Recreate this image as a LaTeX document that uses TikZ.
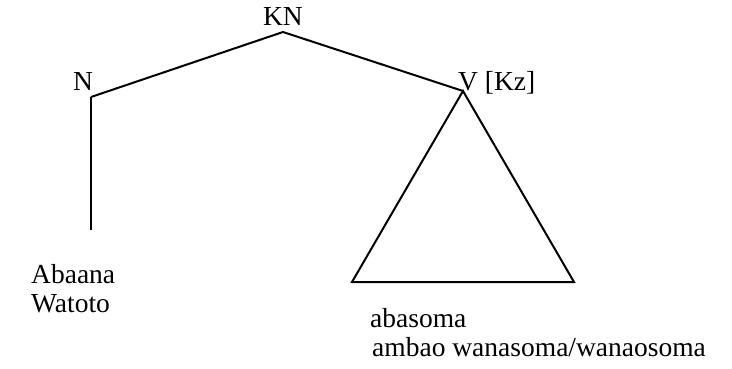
\documentclass[tikz,border=0pt]{standalone}
\usepackage{fontspec}
\setmainfont{Liberation Serif}
\begin{document}
\begin{tikzpicture}[x=1pt,y=-1pt,
  lbl/.style={inner sep=0pt,anchor=base west,font=\fontsize{27.5}{31}\selectfont},
  branch/.style={line width=2pt}]
\useasboundingbox (0,0) rectangle (732,368);
% labels
\node[lbl,anchor=base] (kn) at (283,25) {KN};
\node[lbl] (n) at (73,90) {N};
\node[lbl] (v) at (458,90) {V [Kz]};
\node[lbl] (abaana) at (31,283) {Abaana};
\node[lbl] (watoto) at (31,312) {Watoto};
\node[lbl] (abasoma) at (370,327) {abasoma};
\node[lbl] (ambao) at (372,356) {ambao wanasoma/wanaosoma};
% branch points
\coordinate (knb) at (283,32);
\coordinate (nb) at (91,97);
\coordinate (ve) at (463,91);
\coordinate (nend) at (91,230);
\coordinate (tl) at (352,282);
\coordinate (tr) at (574,282);
% connectors
\draw[branch] (nb) -- (knb) -- (ve);
\draw[branch] (nb) -- (nend);
\draw[branch,line join=miter] (ve) -- (tl) -- (tr) -- cycle;
\end{tikzpicture}
\end{document}
